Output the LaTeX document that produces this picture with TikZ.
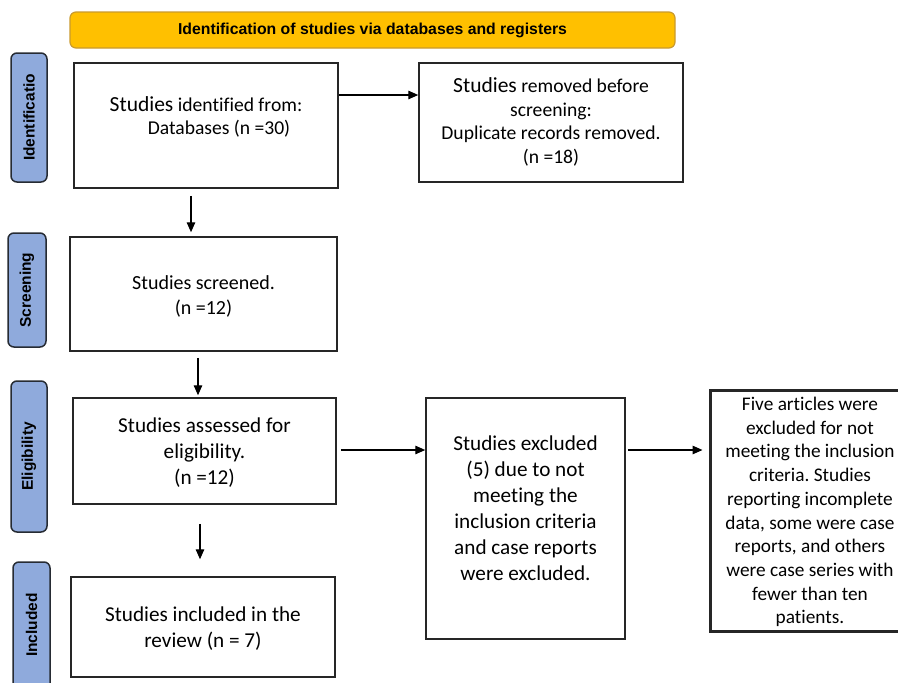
\documentclass[tikz,border=0pt]{standalone}
\usepackage{fontspec}
\setmainfont{Carlito}[Ligatures=NoCommon]
\newfontfamily\arialf{Liberation Sans}
\usetikzlibrary{arrows.meta}
\definecolor{hdrfill}{HTML}{FFC000}
\definecolor{hdrdraw}{HTML}{C99A2E}
\definecolor{sidefill}{HTML}{8FAADC}
\definecolor{sidedraw}{HTML}{262B33}
\tikzset{
  box/.style={draw=black!85, line width=1.5pt, fill=white, inner sep=0pt},
  txta/.style={align=center, font=\fontsize{19.6}{23.5}\selectfont, inner sep=0pt},
  txtb/.style={align=center, font=\fontsize{21.2}{26}\selectfont, inner sep=0pt},
  smalltxt/.style={align=center, font=\fontsize{19.3}{23.7}\selectfont, inner sep=0pt},
  side/.style={draw=sidedraw, line width=1.5pt, fill=sidefill, rounded corners=6pt, inner sep=0pt},
  sidetxt/.style={rotate=90, font=\arialf\bfseries\fontsize{15.5}{17}\selectfont, inner sep=0pt},
  arr/.style={line width=1.4pt, -{Triangle[length=10pt,width=8.5pt]}}
}
\newcommand{\bigword}{\fontsize{21.5}{23.5}\selectfont}
\frenchspacing
\begin{document}
\begin{tikzpicture}[x=1pt,y=-1pt]
\useasboundingbox (0,0) rectangle (898,683);
% header
\node[draw=hdrdraw, line width=1.2pt, fill=hdrfill, rounded corners=6pt, minimum width=605pt, minimum height=36pt, inner sep=0pt,
  font=\arialf\bfseries\fontsize{15.8}{17}\selectfont] (hdr) at (372.5,30) {Identification of studies via databases and registers};
% side labels
\node[side, minimum width=36pt, minimum height=129pt] (s1) at (29,117.5) {};
\node[sidetxt] (s1t) at (s1.center) {Identificatio};
\node[side, minimum width=38pt, minimum height=114pt] (s2) at (27,290) {};
\node[sidetxt] (s2t) at (s2.center) {Screening};
\node[side, minimum width=36pt, minimum height=151pt] (s3) at (29,456.5) {};
\node[sidetxt] (s3t) at (s3.center) {Eligibility};
\node[side, minimum width=37pt, minimum height=140pt] (s4) at (31.5,632) {};
\node[sidetxt] (s4t) at (31.5,625) {Included};
% boxes
\node[box, minimum width=264pt, minimum height=125pt] (b1) at (206,125.5) {};
\node[txta] (b1t) at (206,117) {{\bigword Studies} identified from:\\ \hspace*{26pt}Databases (n =30)};
\node[box, minimum width=264pt, minimum height=119pt] (b2) at (551,122.5) {};
\node[txta] (b2t) at (551,122) {{\bigword Studies} removed before\\ screening:\\ Duplicate records removed.\\ (n =18)};
\node[box, minimum width=267pt, minimum height=114pt] (b3) at (203.5,294) {};
\node[txta, font=\fontsize{20}{25}\selectfont] (b3t) at (203.5,296.5) {Studies screened.\\ (n =12)};
\node[box, minimum width=263pt, minimum height=106pt] (b4) at (204.5,451) {};
\node[txtb] (b4t) at (204.5,453) {Studies assessed for\\ eligibility.\\ (n =12)};
\node[box, minimum width=199pt, minimum height=241pt] (b5) at (525.5,518.5) {};
\node[txtb] (b5t) at (525.5,508) {Studies excluded\\ (5) due to not\\ meeting the\\ inclusion criteria\\ and case reports\\ were excluded.};
\node[box, line width=3pt, minimum width=200pt, minimum height=241pt] (b6) at (810,510.5) {};
\node[smalltxt] (b6t) at (810,512) {Five articles were\\ excluded for not\\ meeting the inclusion\\ criteria. Studies\\ reporting incomplete\\ data, some were case\\ reports, and others\\ were case series with\\ fewer than ten\\ patients.};
\node[box, minimum width=264pt, minimum height=100pt] (b7) at (203,627) {};
\node[txtb] (b7t) at (203,629) {Studies included in the\\ review (n = 7)};
% connectors
\draw[arr] (b1.east |- 0,95) -- (b2.west |- 0,95);
\draw[arr] ([yshift=-7pt]b1.south -| 191,0) -- ([yshift=4pt]b3.north -| 191,0);
\draw[arr] ([yshift=-6pt]b3.south -| 198,0) -- ([yshift=2pt]b4.north -| 198,0);
\draw[arr] ([xshift=4pt]b4.east |- 0,450) -- (b5.west |- 0,450);
\draw[arr] ([xshift=2pt]b5.east |- 0,450) -- ([xshift=-6pt]b6.west |- 0,450);
\draw[arr] ([yshift=-19pt]b4.south -| 200,0) -- ([yshift=17pt]b7.north -| 200,0);
\end{tikzpicture}
\end{document}
